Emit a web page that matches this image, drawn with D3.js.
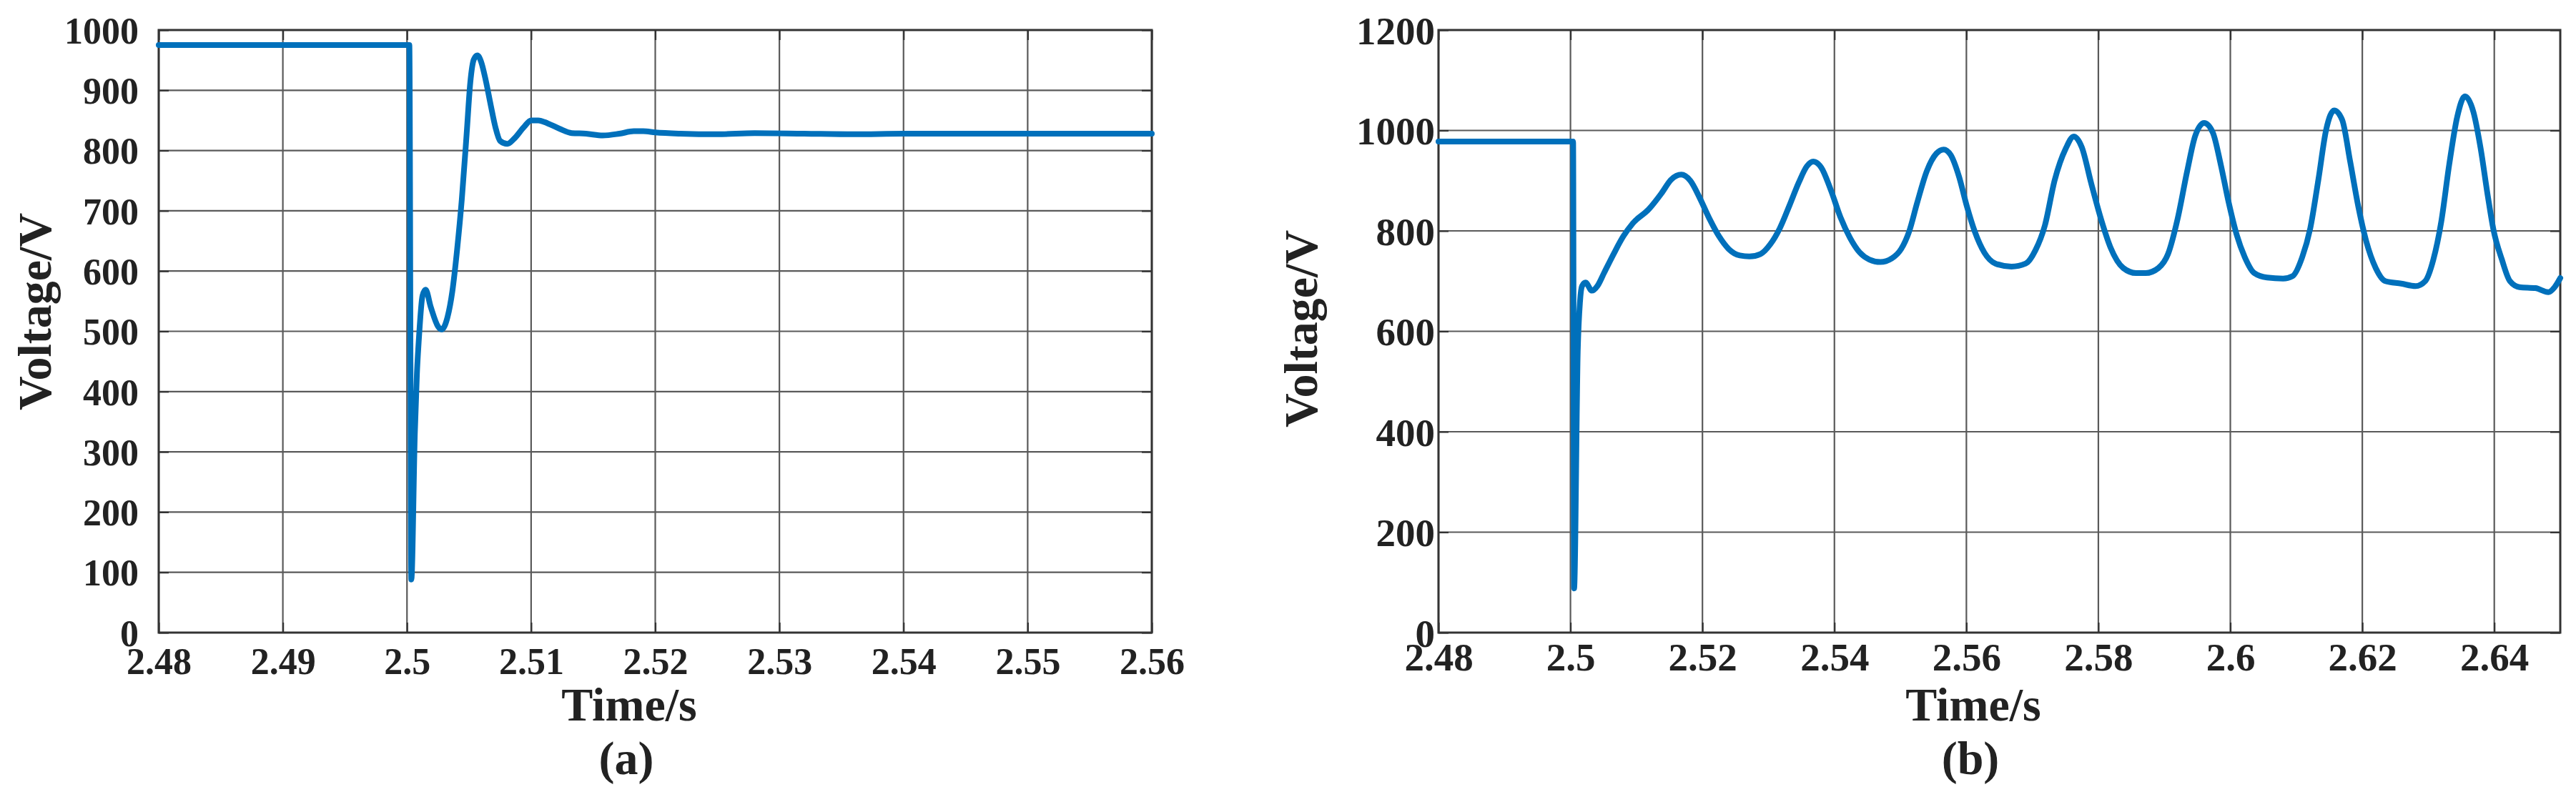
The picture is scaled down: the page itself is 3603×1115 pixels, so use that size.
<!DOCTYPE html>
<html>
<head>
<meta charset="utf-8">
<script src="https://cdn.jsdelivr.net/npm/d3@7"></script>
<style>
  html, body { margin: 0; padding: 0; background: #fff; }
  svg { display: block; }
  text { font-family: "Liberation Serif", "Times New Roman", serif; font-weight: bold; fill: #222; }
</style>
</head>
<body>
<script>
// ---------- DATA ----------
const timeA = [2.48, 2.5, 2.50019, 2.50035, 2.50063, 2.5008, 2.50096, 2.50125, 2.5015, 2.50192, 2.5025, 2.50279,
  2.50327, 2.50365, 2.50404, 2.50442, 2.50481, 2.5051, 2.50538, 2.50567, 2.50596, 2.50635, 2.50673, 2.50712,
  2.5075, 2.50808, 2.50865, 2.50942, 2.51, 2.51058, 2.51135, 2.51231, 2.51327, 2.51442, 2.51577, 2.51712,
  2.51827, 2.51904, 2.52, 2.522, 2.525, 2.528, 2.532, 2.536, 2.54, 2.55, 2.56];
const voltA = [975, 975, 975, 88, 330, 430, 488, 559, 569, 540, 508, 503,
  524, 566, 636, 720, 829, 913, 951, 958, 948, 916, 877, 839,
  816, 811, 820, 839, 850, 850, 845, 836, 829, 828, 825, 828,
  832, 832, 830, 828, 827, 829, 828, 827, 828, 828, 828];

const timeB = [2.48, 2.5004, 2.50055, 2.5011, 2.50145, 2.50175, 2.50228, 2.50324, 2.50412, 2.50508, 2.50654, 2.508,
  2.50944, 2.51186, 2.5138, 2.51525, 2.5168, 2.51816, 2.51961, 2.52107, 2.52252, 2.52397, 2.52567, 2.52712,
  2.52881, 2.53027, 2.53172, 2.53317, 2.53462, 2.53584, 2.5368, 2.53801, 2.53947, 2.54092, 2.54237, 2.54383,
  2.54528, 2.54697, 2.54867, 2.55012, 2.55133, 2.55254, 2.554, 2.55545, 2.55656, 2.55763, 2.55884, 2.56005,
  2.56126, 2.56271, 2.5644, 2.56683, 2.569, 2.57045, 2.5719, 2.57336, 2.57506, 2.57627, 2.57748, 2.57893,
  2.58039, 2.58184, 2.58378, 2.58571, 2.58717, 2.5891, 2.59056, 2.59201, 2.59346, 2.59467, 2.59603, 2.59734,
  2.59855, 2.59976, 2.60097, 2.60218, 2.60363, 2.60557, 2.60799, 2.60944, 2.6109, 2.61211, 2.61332, 2.61453,
  2.61574, 2.61695, 2.61816, 2.61937, 2.62058, 2.62203, 2.62348, 2.6259, 2.62808, 2.62954, 2.63075, 2.63196,
  2.63317, 2.63438, 2.63555, 2.63683, 2.63791, 2.639, 2.63985, 2.64115, 2.64237, 2.64383, 2.64625, 2.64818,
  2.64915, 2.65];
const voltB = [978, 978, 88, 560, 660, 690, 697, 681, 691, 716, 754, 789,
  815, 843, 875, 902, 912, 900, 865, 824, 789, 764, 751, 749,
  754, 773, 805, 850, 897, 929, 938, 926, 881, 827, 786, 757,
  743, 738, 745, 764, 799, 856, 919, 954, 962, 951, 910, 850,
  799, 757, 735, 729, 735, 761, 811, 900, 964, 988, 967, 894,
  824, 767, 726, 716, 716, 726, 754, 824, 919, 989, 1015, 996,
  932, 856, 792, 748, 716, 707, 705, 710, 748, 805, 900, 1002,
  1040, 1021, 938, 850, 780, 726, 700, 695, 690, 700, 742, 818,
  932, 1027, 1068, 1037, 966, 871, 804, 743, 700, 688, 686, 678,
  688, 706];

const xTicksA = [2.48, 2.49, 2.5, 2.51, 2.52, 2.53, 2.54, 2.55, 2.56];
const yTicksA = [0, 100, 200, 300, 400, 500, 600, 700, 800, 900, 1000];
const xTicksB = [2.48, 2.5, 2.52, 2.54, 2.56, 2.58, 2.6, 2.62, 2.64];
const yTicksB = [0, 200, 400, 600, 800, 1000, 1200];

const xTitle = "Time/s";
const yTitle = "Voltage/V";
const panelLabels = ["(a)", "(b)"];

// ---------- DRAW ----------
const W = 3603, H = 1115;
const svg = d3.select("body").append("svg").attr("width", W).attr("height", H)
  .attr("viewBox", `0 0 ${W} ${H}`);
svg.append("rect").attr("width", W).attr("height", H).attr("fill", "#fff");

const lineColor = "#0070bb";

function panel(cfg) {
  const x = d3.scaleLinear().domain(cfg.xDomain).range([cfg.left, cfg.right]);
  const y = d3.scaleLinear().domain(cfg.yDomain).range([cfg.bottom, cfg.top]);
  const g = svg.append("g");

  // grid
  g.append("g").selectAll("line").data(cfg.xTicks).join("line")
    .attr("x1", d => x(d)).attr("x2", d => x(d))
    .attr("y1", cfg.top).attr("y2", cfg.bottom)
    .attr("stroke", "#5a5a5a").attr("stroke-width", 2.2);
  g.append("g").selectAll("line").data(cfg.yTicks).join("line")
    .attr("x1", cfg.left).attr("x2", cfg.right)
    .attr("y1", d => y(d)).attr("y2", d => y(d))
    .attr("stroke", "#5a5a5a").attr("stroke-width", 2.2);

  // axes with inner ticks (bottom, left, top, right)
  const tl = 14;
  const fmt = d => String(+d.toFixed(2));
  const ax = g.append("g").attr("transform", `translate(0,${cfg.bottom})`)
    .call(d3.axisBottom(x).tickValues(cfg.xTicks).tickSizeInner(-tl).tickSizeOuter(0).tickPadding(0).tickFormat(fmt));
  ax.selectAll("text").attr("font-size", cfg.fs).attr("y", cfg.xLabelBase - cfg.bottom).attr("dy", 0)
    .style("font-family", "'Liberation Serif', serif").style("font-weight", "bold").attr("fill", "#222");
  const ay = g.append("g").attr("transform", `translate(${cfg.left},0)`)
    .call(d3.axisLeft(y).tickValues(cfg.yTicks).tickSizeInner(-tl).tickSizeOuter(0).tickPadding(cfg.yPad).tickFormat(d => d));
  ay.selectAll("text").attr("font-size", cfg.fs).attr("dy", "0.35em")
    .style("font-family", "'Liberation Serif', serif").style("font-weight", "bold").attr("fill", "#222");
  g.append("g").attr("transform", `translate(0,${cfg.top})`)
    .call(d3.axisTop(x).tickValues(cfg.xTicks).tickSizeInner(-tl).tickSizeOuter(0).tickFormat(""));
  g.append("g").attr("transform", `translate(${cfg.right},0)`)
    .call(d3.axisRight(y).tickValues(cfg.yTicks).tickSizeInner(-tl).tickSizeOuter(0).tickFormat(""));
  g.selectAll(".domain").remove();
  g.selectAll(".tick line").attr("stroke", "#333").attr("stroke-width", 2.2);

  // frame
  g.append("rect").attr("x", cfg.left).attr("y", cfg.top)
    .attr("width", cfg.right - cfg.left).attr("height", cfg.bottom - cfg.top)
    .attr("fill", "none").attr("stroke", "#333").attr("stroke-width", 3);

  // data line
  const pts = cfg.t.map((t, i) => [t, cfg.v[i]]);
  const line = d3.line().x(d => x(d[0])).y(d => y(d[1])).curve(d3.curveMonotoneX);
  g.append("path").attr("d", line(pts)).attr("fill", "none")
    .attr("stroke", lineColor).attr("stroke-width", 8)
    .attr("stroke-linejoin", "round").attr("stroke-linecap", "round");

  // titles
  g.append("text").attr("x", cfg.xTitleX).attr("y", 1008).attr("text-anchor", "middle")
    .attr("font-size", 66).text(xTitle);
  g.append("text").attr("transform", `translate(${cfg.yTitleX},${cfg.yTitleY}) rotate(-90)`)
    .attr("text-anchor", "middle").attr("font-size", 66).text(yTitle);
  g.append("text").attr("x", cfg.xTitleX - 4).attr("y", 1083).attr("text-anchor", "middle")
    .attr("font-size", 66).text(cfg.label);
}

panel({
  left: 222, right: 1611, top: 42, bottom: 885, fs: 52,
  xDomain: [2.48, 2.56], yDomain: [0, 1000],
  xTicks: xTicksA, yTicks: yTicksA, t: timeA, v: voltA,
  xLabelBase: 943, yPad: 28, xTitleX: 880, yTitleX: 71, yTitleY: 436, label: panelLabels[0]
});
panel({
  left: 2012, right: 3581, top: 42, bottom: 885, fs: 55,
  xDomain: [2.48, 2.65], yDomain: [0, 1200],
  xTicks: xTicksB, yTicks: yTicksB, t: timeB, v: voltB,
  xLabelBase: 938, yPad: 5, xTitleX: 2760, yTitleX: 1842, yTitleY: 460, label: panelLabels[1]
});
</script>
</body>
</html>
